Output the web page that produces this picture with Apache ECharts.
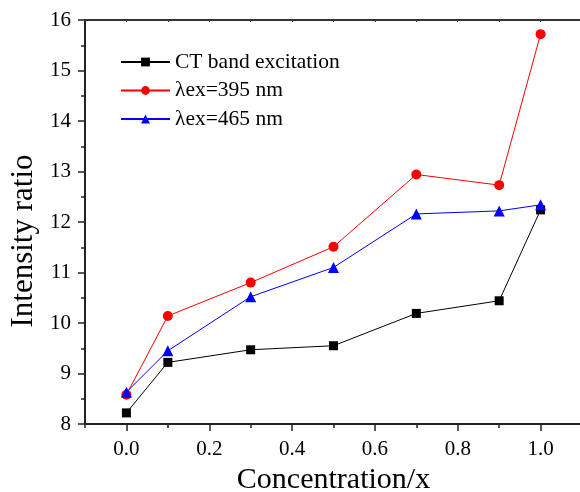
<!DOCTYPE html>
<html>
<head>
<meta charset="utf-8">
<script src="https://cdn.jsdelivr.net/npm/echarts@6/dist/echarts.min.js"></script>
<style>html,body{margin:0;padding:0;background:#fff}#c{width:580px;height:492px}</style>
</head>
<body>
<div id="c"></div>
<script>
var xValues = [0.0, 0.1, 0.3, 0.5, 0.7, 0.9, 1.0];
var ctBand = [8.22, 9.22, 9.47, 9.55, 10.19, 10.44, 12.24];
var ex395 = [8.58, 10.14, 10.80, 11.51, 12.94, 12.73, 15.72];
var ex465 = [8.63, 9.45, 10.52, 11.10, 12.16, 12.22, 12.34];
var seriesNames = ['CT band excitation', '\u03bbex=395 nm', '\u03bbex=465 nm'];
var xMajorTicks = [0.0, 0.2, 0.4, 0.6, 0.8, 1.0];
var xMinorTicks = [-0.1, 0.1, 0.3, 0.5, 0.7, 0.9, 1.1];
var xTopTicks = [0.0, 0.1, 0.2, 0.3, 0.4, 0.5, 0.6, 0.7, 0.8, 0.9, 1.0];

function pairs(ys) { return xValues.map(function (x, i) { return [x, ys[i]]; }); }

var font = 'Liberation Serif, Times New Roman, serif';
var chart = echarts.init(document.getElementById('c'), null, {renderer: 'canvas'});
var baseX = {type: 'value', min: -0.1, max: 1.1, gridIndex: 0};
chart.setOption({
  animation: false,
  backgroundColor: '#fff',
  textStyle: {fontFamily: font},
  grid: {left: 85, top: 20, width: 497, height: 404, containLabel: false, outerBoundsMode: 'none'},
  legend: {
    orient: 'vertical', left: 120, top: 51, padding: 0,
    itemWidth: 49, itemHeight: 11, itemGap: 6.5,
    textStyle: {fontFamily: font, fontSize: 21.5, color: '#000'},
    data: seriesNames
  },
  xAxis: [
    Object.assign({}, baseX, {
      position: 'bottom',
      name: 'Concentration/x', nameLocation: 'middle', nameGap: 40,
      nameTextStyle: {fontFamily: font, fontSize: 30, color: '#000'},
      axisLine: {onZero: false, lineStyle: {color: '#222', width: 2}},
      axisTick: {inside: false, length: 7, customValues: xMajorTicks, lineStyle: {color: '#222', width: 1.5}},
      axisLabel: {customValues: xMajorTicks, margin: 15, fontFamily: font, fontSize: 21, color: '#000',
        formatter: function (v) { return v.toFixed(1); }},
      splitLine: {show: false}
    }),
    Object.assign({}, baseX, {
      position: 'bottom',
      axisLine: {show: false, onZero: false},
      axisTick: {inside: false, length: 4, customValues: xMinorTicks, lineStyle: {color: '#222', width: 1.5}},
      axisLabel: {show: false},
      splitLine: {show: false}
    }),
    Object.assign({}, baseX, {
      position: 'top',
      axisLine: {onZero: false, lineStyle: {color: '#333', width: 2}},
      axisTick: {inside: true, length: 2, customValues: xTopTicks, lineStyle: {color: '#333', width: 1}},
      axisLabel: {show: false},
      splitLine: {show: false}
    })
  ],
  yAxis: {
    type: 'value', min: 8, max: 16, interval: 1,
    name: 'Intensity ratio', nameLocation: 'middle', nameGap: 45,
    nameTextStyle: {fontFamily: font, fontSize: 31, color: '#000', padding: [0, 38, 0, 0]},
    axisLine: {onZero: false, lineStyle: {color: '#222', width: 2}},
    axisTick: {inside: false, length: 7, lineStyle: {color: '#222', width: 1.5}},
    minorTick: {show: true, splitNumber: 2, length: 4, lineStyle: {color: '#222', width: 1.5}},
    axisLabel: {margin: 14, fontFamily: font, fontSize: 21, color: '#000'},
    splitLine: {show: false}
  },
  series: [
    {name: seriesNames[0], type: 'line', data: pairs(ctBand), symbol: 'rect', symbolSize: 9,
      lineStyle: {color: '#000', width: 1}, itemStyle: {color: '#000'}, z: 2},
    {name: seriesNames[1], type: 'line', data: pairs(ex395), symbol: 'circle', symbolSize: 10,
      lineStyle: {color: '#ff0000', width: 1}, itemStyle: {color: '#ff0000'}, z: 3},
    {name: seriesNames[2], type: 'line', data: pairs(ex465), symbol: 'triangle', symbolSize: 11,
      lineStyle: {color: '#0000ff', width: 1}, itemStyle: {color: '#0000ff'}, z: 4}
  ]
});
</script>
</body>
</html>
